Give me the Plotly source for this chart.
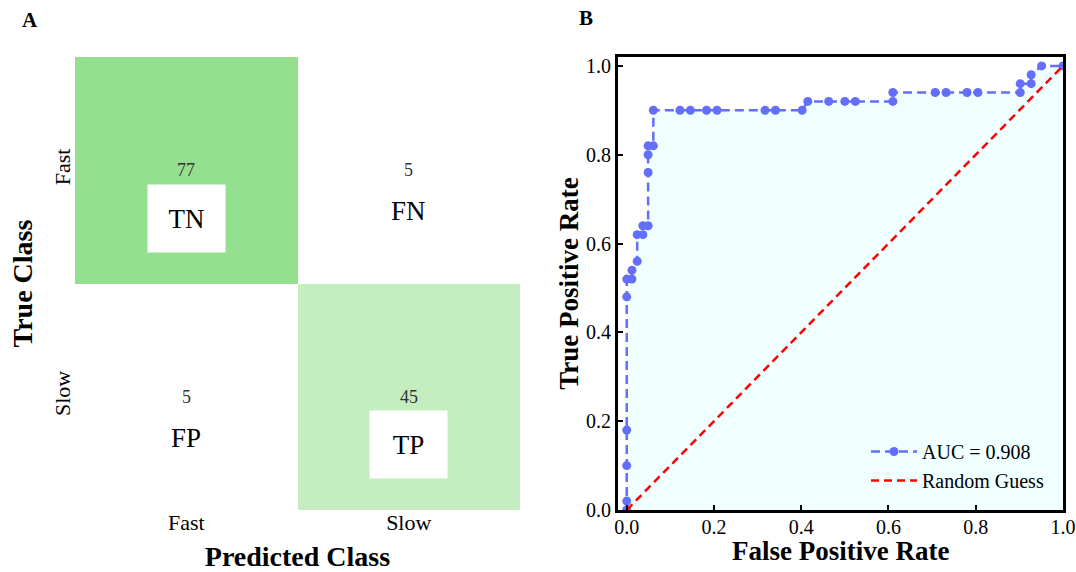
import plotly.graph_objects as go

# ---------------- data ----------------
classes = ["Fast", "Slow"]
cm_values = [[77, 5], [5, 45]]
cm_labels = [["TN", "FN"], ["FP", "TP"]]

fpr = [0.0, 0.0, 0.0, 0.0, 0.0, 0.0, 0.012, 0.012, 0.024, 0.024, 0.037, 0.037,
       0.049, 0.049, 0.049, 0.049, 0.061, 0.061, 0.122, 0.146, 0.183, 0.207,
       0.317, 0.341, 0.402, 0.415, 0.463, 0.500, 0.524, 0.610, 0.610, 0.707,
       0.732, 0.780, 0.805, 0.902, 0.902, 0.927, 0.927, 0.951, 1.0]
tpr = [0.0, 0.02, 0.10, 0.18, 0.48, 0.52, 0.52, 0.54, 0.56, 0.62, 0.62, 0.64,
       0.64, 0.76, 0.80, 0.82, 0.82, 0.90, 0.90, 0.90, 0.90, 0.90,
       0.90, 0.90, 0.90, 0.92, 0.92, 0.92, 0.92, 0.92, 0.94, 0.94,
       0.94, 0.94, 0.94, 0.94, 0.96, 0.96, 0.98, 1.00, 1.0]
auc_value = 0.908
guess_x = [0.0, 1.0]
guess_y = [0.0, 1.0]

# ---------------- styles ----------------
W, H = 1076, 572
SERIF = "Liberation Serif, Times New Roman, serif"
BLUE = "#636EFA"

def px_dom_x(a, b):
    return [a / W, b / W]

def px_dom_y(top, bottom):
    return [1 - bottom / H, 1 - top / H]

fig = go.Figure()

# Confusion matrix heatmap
fig.add_trace(go.Heatmap(
    z=cm_values, x=classes, y=classes,
    colorscale=[[0, "#FFFFFF"], [1, "#95E08E"]],
    zmin=min(min(r) for r in cm_values), zmax=max(max(r) for r in cm_values),
    showscale=False, hoverinfo="skip",
    xaxis="x", yaxis="y",
))

# ROC fill
fig.add_trace(go.Scatter(
    x=fpr, y=tpr, mode="lines", fill="tozeroy",
    fillcolor="#F0FFFF", line=dict(width=0, color="rgba(0,0,0,0)"),
    showlegend=False, hoverinfo="skip", xaxis="x2", yaxis="y2",
))
# ROC curve
fig.add_trace(go.Scatter(
    x=fpr, y=tpr, mode="lines+markers",
    name=f"AUC = {auc_value:.3f}",
    line=dict(color=BLUE, width=2.5, dash="9px,5px"),
    marker=dict(color=BLUE, size=9),
    xaxis="x2", yaxis="y2",
))
# Random guess
fig.add_trace(go.Scatter(
    x=guess_x, y=guess_y, mode="lines", name="Random Guess",
    line=dict(color="red", width=2.5, dash="8px,5px"),
    xaxis="x2", yaxis="y2",
))

annotations = []
for i, row in enumerate(cm_values):
    for j, v in enumerate(row):
        annotations.append(dict(
            x=classes[j], y=classes[i], xref="x", yref="y",
            text=str(v), showarrow=False,
            font=dict(family=SERIF, size=18, color="#333333"),
        ))
        diag = (i == j)
        annotations.append(dict(
            x=classes[j], y=classes[i], xref="x", yref="y",
            text=cm_labels[i][j], showarrow=False,
            yshift=-48 if diag else -41,
            font=dict(family=SERIF, size=27, color="black"),
            bgcolor="white" if diag else "rgba(0,0,0,0)",
            width=77 if diag else None, height=67 if diag else None,
            borderpad=0,
        ))

annotations.append(dict(x=30 / W, y=1 - 20 / H, xref="paper", yref="paper",
                        xanchor="center", yanchor="middle",
                        text="<b>A</b>", showarrow=False,
                        font=dict(family=SERIF, size=21, color="black")))
annotations.append(dict(x=586 / W, y=1 - 18 / H, xref="paper", yref="paper",
                        xanchor="center", yanchor="middle",
                        text="<b>B</b>", showarrow=False,
                        font=dict(family=SERIF, size=21, color="black")))

tick_font = dict(family=SERIF, size=20, color="black")
title_font = dict(family=SERIF, size=28, color="black")

# x-axis title of ROC panel placed precisely
annotations.append(dict(x=(618 + 1063) / 2 / W, y=1 - 551 / H, xref="paper", yref="paper",
                        xanchor="center", yanchor="middle",
                        text="<b>False Positive Rate</b>", showarrow=False,
                        font=dict(family=SERIF, size=27, color="black")))

fig.update_layout(
    width=W, height=H,
    margin=dict(l=0, r=0, t=0, b=0),
    paper_bgcolor="white", plot_bgcolor="white",
    font=dict(family=SERIF, color="black"),
    annotations=annotations,
    xaxis=dict(
        domain=px_dom_x(75, 520), anchor="y",
        range=[-0.5, 1.5], showgrid=False, zeroline=False, showline=False,
        ticks="", tickfont=dict(family=SERIF, size=22, color="black"),
        title=dict(text="<b>Predicted Class</b>", font=title_font, standoff=12),
        automargin=False, fixedrange=True, ticklabelstandoff=-3,
    ),
    yaxis=dict(
        domain=px_dom_y(57, 510), anchor="x",
        range=[1.5, -0.5], showgrid=False, zeroline=False, showline=False,
        ticks="", tickangle=-90, tickfont=dict(family=SERIF, size=22, color="black"),
        title=dict(text="<b>True Class</b>", font=title_font, standoff=8),
        automargin=False, fixedrange=True,
    ),
    xaxis2=dict(
        domain=px_dom_x(618, 1063), anchor="y2",
        range=[-0.02, 1.0], tickvals=[0, 0.2, 0.4, 0.6, 0.8, 1.0],
        ticktext=["0.0", "0.2", "0.4", "0.6", "0.8", "1.0"],
        showgrid=False, zeroline=False,
        showline=True, linecolor="black", linewidth=3, mirror=True,
        ticks="inside", ticklen=5, tickwidth=1.5, tickcolor="black",
        tickfont=tick_font, ticklabelstandoff=-3,
        automargin=False,
    ),
    yaxis2=dict(
        domain=px_dom_y(57, 510), anchor="x2",
        range=[0.0, 1.02], tickvals=[0, 0.2, 0.4, 0.6, 0.8, 1.0],
        ticktext=["0.0", "0.2", "0.4", "0.6", "0.8", "1.0"],
        showgrid=False, zeroline=False,
        showline=True, linecolor="black", linewidth=3, mirror=True,
        ticks="inside", ticklen=5, tickwidth=1.5, tickcolor="black",
        tickfont=tick_font,
        title=dict(text="<b>True Positive Rate</b>", font=dict(family=SERIF, size=27, color="black"),
                   standoff=0),
        automargin=False,
    ),
    legend=dict(
        x=866 / W, y=1 - 432 / H, xanchor="left", yanchor="top",
        bgcolor="rgba(0,0,0,0)", borderwidth=0,
        font=dict(family=SERIF, size=20, color="black"),
        itemwidth=46, tracegroupgap=0,
    ),
)

fig.write_html(
    "out.html",
    config={"displayModeBar": False},
    post_script="document.body.style.margin='0';document.body.style.padding='0';",
)
